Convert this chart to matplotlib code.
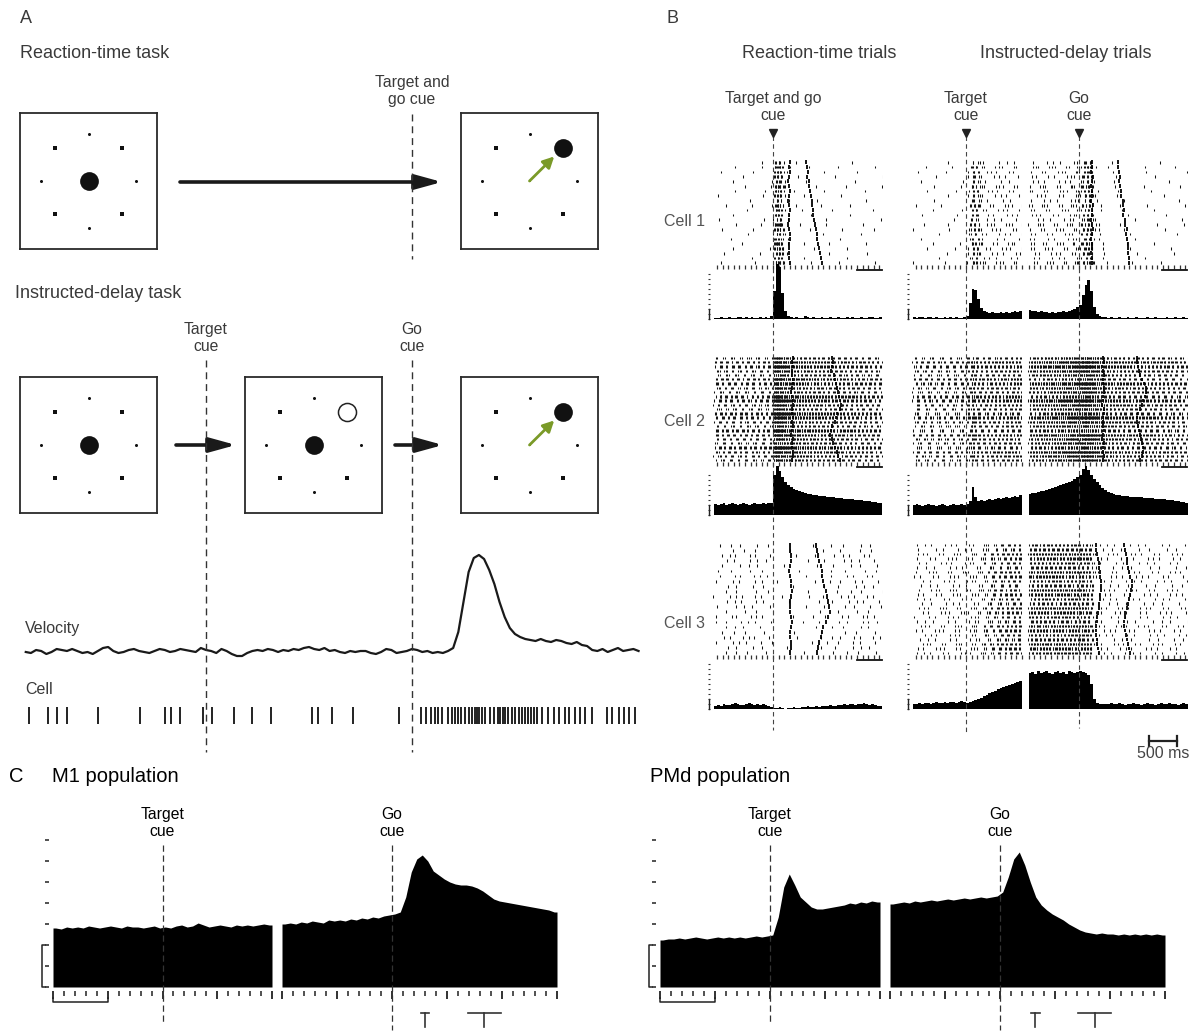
import numpy as np
import matplotlib
matplotlib.use("Agg")
import matplotlib.pyplot as plt
from matplotlib import transforms
from matplotlib.lines import Line2D
from matplotlib.patches import FancyArrowPatch

plt.rcParams['font.family'] = ['Liberation Sans', 'DejaVu Sans']

W, H = 1199, 1034

# =========================== DATA ===========================
TARGET_ANGLES_DEG = [0, 45, 90, 135, 180, 225, 270, 315]
CUED_TARGET_DEG = 45

# ---- Panel A: single instructed-delay trial (ms; target cue = 0, go cue = 1000)
A_TARGET_CUE_MS = 0
A_GO_CUE_MS = 1000
VEL_T0_MS, VEL_DT_MS = -875, 25
VELOCITY = [0, -1, 2, 1, -2, 0, 3, 2, 1, 3,
            1, -1, 0, -2, 1, 4, 5, 1, -1, 0,
            2, 3, 1, 0, -1, 1, 3, 2, 0, 1,
            3, 2, 1, 0, 4, 2, 1, -1, 3, 1,
            -2, -4, -4, -1, 1, 2, 1, 3, 2, 0,
            2, 1, 3, 2, 4, 5, 3, 2, 4, 1,
            2, 0, -1, 1, 0, 1, 1, -1, -2, 0,
            3, 2, -1, 0, 1, 3, 2, 0, 1, -1,
            0, -1, 1, 4, 20, 50, 80, 94, 97, 93,
            82, 68, 50, 35, 24, 18, 15, 13, 12, 11,
            13, 11, 10, 12, 11, 9, 8, 10, 7, 6,
            2, 1, 3, 0, 2, 4, 1, 2, 3, 1]
CELL_SPIKES_MS = [-859, -767, -723, -675, -524, -320, -199, -170, -126, -15, 29, 136,
                  223, 316, 515, 544, 612, 714, 937,
                  1043, 1067, 1094, 1114, 1128, 1144, 1174, 1195, 1209, 1225, 1239,
                  1255, 1276, 1290, 1306, 1316, 1326, 1340, 1356, 1377, 1397, 1417,
                  1427, 1441, 1453, 1468, 1484, 1498, 1518, 1532, 1549, 1565, 1579,
                  1593, 1609, 1630, 1660, 1690, 1715, 1741, 1761, 1791, 1816, 1842,
                  1872, 1949, 1973, 2004, 2030, 2054, 2084]

# ---- Panel B: PSTHs (50-ms bins), rasters and behavioural markers (ms)
RT_EDGES_MS = np.arange(-1050, 1951, 50)    # aligned on target-and-go cue
IDL_EDGES_MS = np.arange(-950, 1001, 50)    # aligned on target cue
IDR_EDGES_MS = np.arange(-900, 1951, 50)    # aligned on go cue

CELL1_RT_PSTH = [1, 1, 2, 1, 1, 2, 1, 1, 2, 2, 1, 2, 1, 2, 1, 1, 2, 1, 2, 1,
                 3, 28, 55, 52, 26, 8, 3, 2, 1, 2, 1, 1, 3, 2, 1, 2, 1, 1, 2, 1,
                 1, 2, 1, 1, 2, 1, 1, 2, 1, 2, 1, 1, 2, 1, 1, 2, 2, 1, 1, 2]
CELL1_IDL_PSTH = [2, 1, 2, 2, 1, 2, 2, 1, 2, 1, 1, 2, 1, 2, 1, 2, 1, 1, 2,
                  3, 16, 30, 29, 20, 11, 8, 7, 6, 7, 6, 6, 7, 6, 7, 6, 7, 8, 7, 8]
CELL1_IDR_PSTH = [9, 8, 8, 7, 8, 7, 7, 6, 7, 6, 7, 7, 8, 7, 8, 9, 10, 12,
                  14, 24, 34, 39, 28, 12, 5, 3, 2, 2, 1, 2, 1, 1, 2, 1, 1, 2,
                  1, 1, 2, 1, 1, 1, 2, 1, 1, 2, 1, 1, 1, 2, 1, 1, 2, 1, 1, 2, 1]
CELL2_RT_PSTH = [11, 10, 11, 12, 10, 11, 12, 11, 10, 11, 12, 11, 10, 11, 12, 11, 11, 12, 11, 12,
                 12, 40, 49, 44, 38, 33, 30, 28, 26, 25, 24, 23, 22, 21, 21, 20, 20, 19, 19, 19,
                 18, 18, 18, 17, 17, 17, 16, 16, 16, 16, 15, 15, 15, 14, 14, 14, 13, 13, 12, 12]
CELL2_IDL_PSTH = [10, 11, 10, 9, 10, 11, 10, 10, 9, 10, 11, 10, 9, 10, 11, 10, 10, 11, 10,
                  11, 14, 28, 18, 14, 15, 14, 15, 16, 15, 16, 17, 16, 17, 18, 17, 18, 19, 18, 20]
CELL2_IDR_PSTH = [21, 22, 22, 23, 24, 24, 25, 26, 27, 28, 29, 30, 31, 32, 33, 34, 36, 38,
                  40, 46, 49, 45, 40, 36, 33, 30, 27, 25, 23, 22, 21, 20, 20, 19, 19, 19,
                  18, 18, 18, 18, 18, 17, 17, 17, 17, 16, 16, 16, 16, 15, 15, 15, 14, 14, 13, 13, 12]
CELL3_RT_PSTH = [3, 4, 3, 5, 4, 4, 5, 6, 5, 4, 4, 5, 6, 5, 4, 5, 4, 5, 4, 3,
                 2, 1, 1, 2, 1, 0, 1, 1, 2, 1, 1, 2, 2, 3, 2, 2, 3, 2, 3, 3,
                 3, 4, 3, 3, 4, 4, 5, 4, 5, 5, 4, 5, 5, 6, 5, 4, 5, 4, 3, 3]
CELL3_IDL_PSTH = [5, 5, 6, 5, 6, 6, 5, 6, 7, 6, 6, 7, 6, 7, 7, 6, 7, 8, 7,
                  6, 7, 8, 9, 10, 11, 13, 14, 16, 17, 18, 20, 21, 22, 23, 24, 25, 26, 27, 28]
CELL3_IDR_PSTH = [36, 37, 35, 38, 36, 37, 38, 36, 35, 37, 38, 36, 37, 35, 38, 37, 36, 37,
                  38, 37, 36, 34, 25, 10, 6, 5, 5, 5, 5, 6, 5, 5, 6, 5, 4, 5, 5, 6,
                  5, 5, 4, 5, 6, 5, 5, 4, 5, 6, 5, 5, 6, 5, 5, 4, 5, 6, 5]

CELL1_RT_ONSET = [300, 290, 310, 280, 270, 290, 300, 285, 275, 290, 305, 295, 280, 270, 285, 300, 310, 290, 280, 295, 285, 300]
CELL1_RT_END = [590, 600, 620, 610, 640, 650, 660, 680, 690, 700, 710, 720, 740, 750, 760, 780, 790, 800, 820, 840, 860, 880]
CELL1_ID_ONSET = [230, 240, 220, 250, 230, 210, 240, 230, 220, 250, 240, 230, 220, 240, 250, 230, 210, 240, 230, 220, 240, 230]
CELL1_ID_END = [700, 690, 720, 730, 710, 740, 760, 750, 780, 790, 800, 790, 820, 830, 850, 840, 860, 870, 880, 870, 890, 900]
CELL2_RT_ONSET = [350, 340, 360, 345, 335, 350, 355, 340, 330, 345, 350, 360, 340, 335, 350, 345, 355, 340, 330, 350, 345, 340, 355, 350, 345]
CELL2_RT_END = [1050, 1080, 1060, 1040, 1090, 1100, 1120, 1140, 1160, 1180, 1200, 1220, 1190, 1150, 1120, 1100, 1060, 1040, 1020, 1050, 1080, 1110, 1140, 1170, 1200]
CELL2_ID_ONSET = [430, 440, 420, 435, 445, 430, 425, 440, 450, 435, 430, 420, 440, 445, 430, 435, 425, 440, 430, 420, 445, 435, 430, 440, 425]
CELL2_ID_END = [1030, 1040, 1060, 1080, 1100, 1130, 1160, 1190, 1200, 1180, 1150, 1120, 1090, 1060, 1040, 1030, 1050, 1070, 1090, 1110, 1130, 1150, 1140, 1120, 1100]
CELL3_RT_ONSET = [300, 310, 320, 330, 300, 290, 310, 320, 330, 340, 320, 310, 300, 310, 330, 340, 320, 310, 300, 320, 330, 310]
CELL3_RT_END = [760, 780, 800, 820, 850, 870, 880, 900, 920, 950, 970, 990, 1000, 1020, 980, 940, 900, 870, 850, 830, 800, 780]
CELL3_ID_ONSET = [300, 310, 330, 340, 350, 360, 370, 380, 390, 400, 390, 380, 370, 360, 350, 340, 330, 320, 310, 300, 310, 320, 330, 340, 350]
CELL3_ID_END = [800, 820, 840, 850, 860, 880, 900, 920, 940, 950, 930, 910, 890, 870, 850, 830, 820, 810, 800, 820, 840, 860, 880, 900, 920]

CELL_NAMES = ['Cell 1', 'Cell 2', 'Cell 3']
CELL_RT_TRIALS = [22, 25, 22]
CELL_ID_TRIALS = [22, 25, 25]
CELL_RASTER_GAIN = [0.055, 0.1, 0.055]   # spikes per bin per PSTH unit

# ---- Panel C: population PSTHs (50-ms bins)
C_LEFT_EDGES_MS = np.arange(-1000, 1001, 50)    # aligned on target cue
C_RIGHT_EDGES_MS = np.arange(-1000, 1501, 50)   # aligned on go cue
M1_LEFT = [59, 58, 60, 59, 60, 59, 61, 60, 59, 60, 61, 60, 59, 61, 60, 60, 59, 60, 61, 59,
           60, 59, 61, 62, 60, 61, 64, 62, 60, 61, 62, 61, 60, 62, 61, 62, 61, 62, 63, 62]
M1_RIGHT = [63, 64, 63, 65, 64, 66, 65, 64, 67, 66, 67, 66, 68, 67, 69, 68, 70, 69, 71, 72,
            73, 75, 90, 115, 128, 132, 126, 116, 112, 108, 105, 103, 102, 102, 101, 99, 96, 92, 88, 86,
            85, 84, 83, 82, 81, 80, 79, 78, 77, 75]
PMD_LEFT = [47, 48, 48, 49, 48, 49, 50, 49, 48, 49, 50, 49, 50, 49, 50, 49, 50, 51, 50, 51,
            52, 70, 100, 113, 102, 90, 85, 80, 78, 78, 79, 80, 81, 82, 84, 83, 85, 84, 86, 85]
PMD_RIGHT = [83, 84, 85, 84, 86, 85, 86, 87, 86, 87, 88, 87, 88, 89, 88, 89, 90, 89, 90, 91,
             95, 110, 128, 135, 122, 105, 90, 82, 77, 73, 70, 67, 63, 60, 57, 55, 54, 53, 54, 53,
             53, 52, 53, 52, 53, 52, 53, 52, 53, 52]
M1_MOVE_ONSET = (300, 40)    # mean, sd (ms after go cue)
M1_MOVE_END = (840, 150)
PMD_MOVE_ONSET = (320, 40)
PMD_MOVE_END = (860, 150)

# =========================== FIGURE ===========================
fig = plt.figure(figsize=(W / 100, H / 100), dpi=100)
fig.patch.set_facecolor('white')


def R(x0, y0, x1, y1):
    return [x0 / W, 1 - y1 / H, (x1 - x0) / W, (y1 - y0) / H]


def FX(x):
    return x / W


def FY(y):
    return 1 - y / H


GT = '#3a3a3a'


def ftext(x, y, s, size, color=GT, ha='left', va='center', **kw):
    return fig.text(FX(x), FY(y), s, fontsize=size, color=color, ha=ha, va=va, **kw)


def blank(ax):
    ax.set_facecolor('none')
    for s in ax.spines.values():
        s.set_visible(False)
    ax.set_xticks([])
    ax.set_yticks([])


# ---------------------------- Panel A ----------------------------
ftext(20, 18, 'A', 13)
ftext(20, 54, 'Reaction-time task', 13)
ftext(15, 293, 'Instructed-delay task', 13)

GREEN = '#7a9a28'


def task_box(x0, y0, x1, y1, state):
    ax = fig.add_axes(R(x0, y0, x1, y1))
    ax.set_xlim(-1.45, 1.45)
    ax.set_ylim(-1.45, 1.45)
    ax.set_xticks([])
    ax.set_yticks([])
    for s in ax.spines.values():
        s.set_linewidth(1.3)
        s.set_color('#2a2a2a')
    ang = np.deg2rad(TARGET_ANGLES_DEG)
    for a, d in zip(ang, TARGET_ANGLES_DEG):
        if state == 'move' and d == CUED_TARGET_DEG:
            continue
        diag = d % 90 != 0
        ax.plot(np.cos(a), np.sin(a), marker='s' if diag else 'o',
                ms=2.8 if diag else 2.2, color='#111', mew=0)
    ca = np.deg2rad(CUED_TARGET_DEG)
    if state in ('start', 'cue'):
        ax.plot(0, 0, 'o', ms=13.5, color='#111', mew=0)
    if state == 'cue':
        ax.plot(np.cos(ca), np.sin(ca), 'o', ms=13, mfc='white', mec='#222', mew=1.1)
    if state == 'move':
        ax.plot(np.cos(ca), np.sin(ca), 'o', ms=13.5, color='#111', mew=0)
        ax.annotate('', xy=(0.74 * np.cos(ca), 0.74 * np.sin(ca)), xytext=(0, 0),
                    arrowprops=dict(arrowstyle='-|>,head_length=0.55,head_width=0.28',
                                    color=GREEN, lw=2.0, mutation_scale=12,
                                    shrinkA=0, shrinkB=0))
        ax.plot(0, 0, 's', ms=1.5, color=GREEN, mew=0)
    return ax


task_box(20, 113, 157, 249, 'start')
task_box(461, 113, 598, 249, 'move')
task_box(20, 377, 157, 513, 'start')
task_box(245, 377, 382, 513, 'cue')
task_box(461, 377, 598, 513, 'move')


def fig_arrow(x0, x1, y):
    fig.add_artist(FancyArrowPatch((FX(x0), FY(y)), (FX(x1), FY(y)), transform=fig.transFigure,
                                   arrowstyle='-|>,head_length=0.8,head_width=0.22',
                                   mutation_scale=20, lw=2.6, color='#1a1a1a',
                                   shrinkA=0, shrinkB=0))


fig_arrow(180, 442, 182)
fig_arrow(176, 236, 445)
fig_arrow(395, 443, 445)

# velocity trace and spikes
axv = fig.add_axes(R(20, 540, 640, 665))
blank(axv)
axv.set_xlim(-903, 2107)
axv.set_ylim(-13, 112)
vt = VEL_T0_MS + VEL_DT_MS * np.arange(len(VELOCITY))
axv.plot(vt, VELOCITY, color='#1a1a1a', lw=1.6)
ftext(25, 628, 'Velocity', 11.5)
ftext(25, 690, 'Cell', 11.5)

axs = fig.add_axes(R(20, 707, 640, 724))
blank(axs)
axs.set_xlim(-903, 2107)
axs.set_ylim(0, 1)
axs.vlines(CELL_SPIKES_MS, 0, 1, color='#111', lw=1.3)

bA = transforms.blended_transform_factory(axv.transData, fig.transFigure)
DASH_A = dict(color='#333', lw=1.0, linestyle=(0, (5, 3.5)))
for tc in (A_TARGET_CUE_MS, A_GO_CUE_MS):
    fig.add_artist(Line2D([tc, tc], [FY(360), FY(752)], transform=bA, **DASH_A))
fig.add_artist(Line2D([A_GO_CUE_MS] * 2, [FY(114), FY(259)], transform=bA, **DASH_A))
fig.text(A_GO_CUE_MS, FY(91), 'Target and\ngo cue', transform=bA, ha='center', va='center',
         fontsize=11.3, color=GT, linespacing=1.15)
fig.text(A_TARGET_CUE_MS, FY(338), 'Target\ncue', transform=bA, ha='center', va='center',
         fontsize=11.3, color=GT, linespacing=1.15)
fig.text(A_GO_CUE_MS, FY(338), 'Go\ncue', transform=bA, ha='center', va='center',
         fontsize=11.3, color=GT, linespacing=1.15)

# ---------------------------- Panel B ----------------------------
ftext(666, 18, 'B', 13)
ftext(819, 54, 'Reaction-time trials', 13, ha='center')
ftext(1066, 54, 'Instructed-delay trials', 13, ha='center')

CELL_ROWS_PX = [(160, 267, 319), (356, 464, 515), (543, 657, 709)]
CELL_LABEL_Y = [221, 422, 623]
RT_X = (713, 883, (-1070, 1965))
IDL_X = (912, 1022, (-964, 1000))
IDR_X = (1027, 1188, (-930, 1950))

psth = {
    0: (CELL1_RT_PSTH, CELL1_IDL_PSTH, CELL1_IDR_PSTH),
    1: (CELL2_RT_PSTH, CELL2_IDL_PSTH, CELL2_IDR_PSTH),
    2: (CELL3_RT_PSTH, CELL3_IDL_PSTH, CELL3_IDR_PSTH),
}
marks = {
    0: ((CELL1_RT_ONSET, CELL1_RT_END), (CELL1_ID_ONSET, CELL1_ID_END)),
    1: ((CELL2_RT_ONSET, CELL2_RT_END), (CELL2_ID_ONSET, CELL2_ID_END)),
    2: ((CELL3_RT_ONSET, CELL3_RT_END), (CELL3_ID_ONSET, CELL3_ID_END)),
}


def frac(v):
    return v - np.floor(v)


def draw_raster(ax, edges, rate, n, gain, markers=None, seed=0.0):
    """Place spikes deterministically so that row density follows the PSTH."""
    dt = edges[1] - edges[0]
    m = 0
    for i in range(n):
        acc = frac(i * 0.41421356 + seed)
        mod = 0.7 + 0.6 * frac(i * 0.7548776662 + seed * 0.37)
        ts = []
        for b, h in enumerate(rate):
            c = h * gain * mod
            if c <= 0:
                continue
            new = acc + c
            k = np.floor(acc) + 1
            spacing = dt / c
            while k <= new:
                t = edges[b] + (k - acc) * spacing
                jit = (frac(m * 0.6180339887 + seed) - 0.5) * min(1.4 * spacing, 3 * dt)
                ts.append(t + jit)
                k += 1
                m += 1
            acc = new
        row = n - 1 - i
        ax.vlines(ts, row + 0.25, row + 0.8, color='#111', lw=0.75)
    if markers is not None:
        for mk in markers:
            rows = n - 1 - np.arange(len(mk))
            ax.vlines(mk, rows + 0.1, rows + 0.95, color='#000', lw=1.3)


def tick_row(ax, xl, scalebar=True):
    ax.set_xticks(np.arange(np.ceil(xl[0] / 100) * 100, xl[1] + 1, 100))
    ax.tick_params(axis='x', direction='inout', length=2.2, width=0.9, color='#333',
                   labelbottom=False)
    if scalebar:
        tr = transforms.blended_transform_factory(ax.transData, ax.transAxes)
        ax.plot([xl[1] - 470, xl[1] - 10], [-0.03, -0.03], transform=tr, color='#111',
                lw=1.3, clip_on=False)


def hist_axis(ax, height, yticks=True):
    ax.set_ylim(0, height)
    if yticks:
        ax.set_yticks(np.arange(0, height - 4, 5))
        ax.spines['left'].set_position(('outward', 2))
        ax.tick_params(axis='y', direction='out', length=1.6, width=0.8, color='#333',
                       labelleft=False)
        tr = transforms.blended_transform_factory(ax.transAxes, ax.transData)
        off = transforms.ScaledTranslation(-4 / 100, 0, fig.dpi_scale_trans)
        ax.plot([0.0, 0.0], [0, 10], transform=tr + off, color='#222', lw=1.0, clip_on=False)


raster_axes = {}
for c in range(3):
    top, trow, base = CELL_ROWS_PX[c]
    rt, idl, idr = psth[c]
    (rt_on, rt_end), (id_on, id_end) = marks[c]
    ftext(664, CELL_LABEL_Y[c], CELL_NAMES[c], 11.5, color='#555')
    for k, ((x0, x1, xl), rate, edges, n, mk, sb, yt) in enumerate([
            (RT_X, rt, RT_EDGES_MS, CELL_RT_TRIALS[c], (rt_on, rt_end), True, True),
            (IDL_X, idl, IDL_EDGES_MS, CELL_ID_TRIALS[c], None, False, True),
            (IDR_X, idr, IDR_EDGES_MS, CELL_ID_TRIALS[c], (id_on, id_end), True, False)]):
        axr = fig.add_axes(R(x0, top, x1, trow))
        blank(axr)
        axr.set_xlim(*xl)
        axr.set_ylim(-0.35, n)
        draw_raster(axr, edges, rate, n, CELL_RASTER_GAIN[c], mk, seed=0.13 * (3 * c + k))
        tick_row(axr, xl, scalebar=sb)
        axh = fig.add_axes(R(x0, trow + 2, x1, base))
        blank(axh)
        axh.set_xlim(*xl)
        hist_axis(axh, base - trow - 2, yticks=yt)
        axh.stairs(rate, edges, fill=True, color='#000', lw=0, clip_on=False)
        raster_axes[(c, x0)] = axr

DASH_B = dict(color='#444', lw=0.8, linestyle=(0, (4, 3)))
for (x0, x1, xl), label, yend in [(RT_X, 'Target and go\ncue', 730),
                                  (IDL_X, 'Target\ncue', 733),
                                  (IDR_X, 'Go\ncue', 728)]:
    ax0 = raster_axes[(0, x0)]
    bt = transforms.blended_transform_factory(ax0.transData, fig.transFigure)
    fig.add_artist(Line2D([0, 0], [FY(136), FY(yend)], transform=bt, **DASH_B))
    fig.add_artist(Line2D([0], [FY(133)], transform=bt, marker='v', ms=5.5, color='#222',
                          linestyle='none'))
    fig.text(0, FY(107), label, transform=bt, ha='center', va='center', fontsize=11.3,
             color=GT, linespacing=1.1)

# 500 ms scale bar
axr = raster_axes[(2, IDR_X[0])]
bt = transforms.blended_transform_factory(axr.transData, fig.transFigure)
fig.add_artist(Line2D([1250, 1750], [FY(741), FY(741)], transform=bt, color='#222', lw=1.6))
for xx in (1250, 1750):
    fig.add_artist(Line2D([xx, xx], [FY(736), FY(746)], transform=bt, color='#222', lw=1.6))
fig.text(1500, FY(754), '500 ms', transform=bt, ha='center', va='center', fontsize=11.5,
         color='#444')

# ---------------------------- Panel C ----------------------------
ftext(9, 777, 'C', 14.5, color='k')
ftext(52, 777, 'M1 population', 14.5, color='k')
ftext(650, 777, 'PMd population', 14.5, color='k')

C_TOP, C_BASE = 832, 987
DASH_C = dict(color='#333', lw=0.9, linestyle=(0, (5, 3)))


def pop_axes(x0, x1, xl, vals, edges, left):
    ax = fig.add_axes(R(x0, C_TOP, x1, C_BASE))
    blank(ax)
    ax.set_xlim(*xl)
    ax.set_ylim(0, C_BASE - C_TOP)
    centers = (edges[:-1] + edges[1:]) / 2
    xs = np.concatenate([[edges[0]], centers, [edges[-1]]])
    ys = np.concatenate([[vals[0]], vals, [vals[-1]]])
    ax.fill_between(xs, 0, ys, color='#000', lw=0)
    ax.spines['bottom'].set_position(('outward', 3))
    major = np.arange(xl[0], xl[1] + 1, 500)
    minor = np.arange(xl[0], xl[1] + 1, 100)
    ax.set_xticks(major)
    ax.set_xticks(minor, minor=True)
    ax.tick_params(axis='x', which='major', direction='out', length=6, width=1.3,
                   color='#222', labelbottom=False)
    ax.tick_params(axis='x', which='minor', direction='out', length=3.5, width=1.1,
                   color='#222')
    if left:
        ax.set_yticks(np.arange(0, 148, 21))
        ax.spines['left'].set_position(('outward', 3))
        ax.tick_params(axis='y', direction='out', length=3, width=1.2, color='#333',
                       labelleft=False)
        tr = transforms.blended_transform_factory(fig.transFigure, ax.transData)
        ax.plot([FX(x0 - 8), FX(x0 - 11), FX(x0 - 11), FX(x0 - 8)], [0, 0, 42, 42],
                transform=tr, color='#222', lw=1.1, clip_on=False)
        bt = transforms.blended_transform_factory(ax.transData, fig.transFigure)
        ax.plot([xl[0], xl[0], xl[0] + 500, xl[0] + 500],
                [FY(998), FY(1002), FY(1002), FY(998)], transform=bt, color='#222',
                lw=1.1, clip_on=False)
    return ax


def cue(ax, label, yend):
    bt = transforms.blended_transform_factory(ax.transData, fig.transFigure)
    fig.add_artist(Line2D([0, 0], [FY(845), FY(yend)], transform=bt, **DASH_C))
    fig.text(0, FY(823), label, transform=bt, ha='center', va='center', fontsize=11.3,
             color='k', linespacing=1.15)


def t_marks(ax, onset, end):
    bt = transforms.blended_transform_factory(ax.transData, fig.transFigure)
    for m, sd in (onset, end):
        ax.plot([m, m], [FY(1013), FY(1027)], transform=bt, color='#333', lw=1.2,
                clip_on=False)
        ax.plot([m - sd, m + sd], [FY(1013), FY(1013)], transform=bt, color='#333',
                lw=1.2, clip_on=False)


for (lx0, lx1, rx0, rx1), left_vals, right_vals, onset, end in [
        ((53, 272, 282, 557), M1_LEFT, M1_RIGHT, M1_MOVE_ONSET, M1_MOVE_END),
        ((660, 880, 890, 1165), PMD_LEFT, PMD_RIGHT, PMD_MOVE_ONSET, PMD_MOVE_END)]:
    axl = pop_axes(lx0, lx1, (-1000, 1000), left_vals, C_LEFT_EDGES_MS, True)
    axr_ = pop_axes(rx0, rx1, (-1000, 1500), right_vals, C_RIGHT_EDGES_MS, False)
    cue(axl, 'Target\ncue', 1022)
    cue(axr_, 'Go\ncue', 1030)
    t_marks(axr_, onset, end)

fig.savefig('out.png', dpi=100, facecolor='white')
